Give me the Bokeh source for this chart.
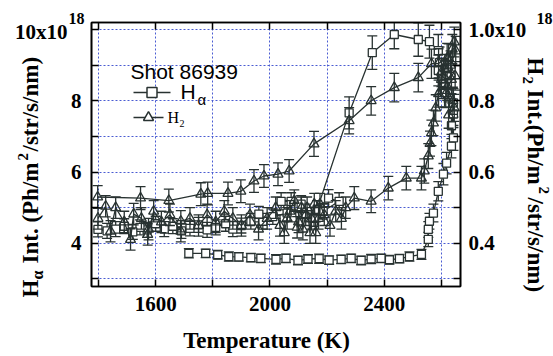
from math import pi
from bokeh.plotting import figure
from bokeh.models import Range1d, LinearAxis, FixedTicker, ColumnDataSource
from bokeh.core.properties import value
from bokeh.embed import file_html
from bokeh.resources import INLINE

# ---------------- data ----------------
# H-alpha intensity (x1e18 Ph/m^2/str/s/nm), time ordered
ha_T = [1716, 1775, 1817, 1856, 1891, 1933, 1968, 2021, 2056, 2098, 2133, 2172, 2207, 2249,
        2284, 2319, 2354, 2389, 2418, 2453, 2488, 2530,
        2554, 2554, 2558, 2572, 2589, 2607, 2618, 2635, 2642, 2635, 2642, 2642, 2611, 2607,
        2600, 2589, 2593, 2589, 2558, 2519, 2435, 2358, 2277, 2165,
        2205, 2242, 2186, 2154, 2109, 2074, 2039, 2060, 2010, 1975, 1961, 1933, 1900, 1870,
        1845, 1810, 1780, 1750, 1720, 1690, 1660, 1630, 1600, 1570, 1545, 1520, 1490, 1460,
        1430, 1398]
ha_I = [3.72, 3.72, 3.68, 3.63, 3.62, 3.60, 3.58, 3.55, 3.58, 3.52, 3.56, 3.57, 3.53, 3.55,
        3.58, 3.52, 3.56, 3.58, 3.54, 3.57, 3.63, 3.69,
        4.11, 4.39, 4.62, 4.85, 5.46, 5.94, 6.25, 6.73, 6.96, 7.30, 7.63, 7.94, 8.23, 8.48,
        8.70, 8.85, 9.07, 9.41, 9.66, 9.72, 9.86, 9.35, 7.66, 4.95,
        5.27, 5.18, 4.90, 4.70, 5.10, 5.18, 5.18, 4.85, 4.75, 4.62, 4.82, 4.62, 4.50, 4.40,
        4.55, 4.45, 4.38, 4.52, 4.42, 4.35, 4.48, 4.40, 4.55, 4.38, 4.45, 4.32, 4.48, 4.40,
        4.35, 4.39]
ha_err = [0.13, 0.12, 0.12, 0.13, 0.12, 0.12, 0.12, 0.13, 0.12, 0.12, 0.12, 0.13, 0.12, 0.12,
          0.12, 0.12, 0.13, 0.12, 0.12, 0.12, 0.13, 0.14,
          0.20, 0.22, 0.22, 0.25, 0.27, 0.30, 0.30, 0.33, 0.35, 0.36, 0.38, 0.40, 0.40, 0.42,
          0.42, 0.43, 0.44, 0.45, 0.46, 0.47, 0.40, 0.47, 0.45, 0.25,
          0.24, 0.24, 0.22, 0.22, 0.24, 0.24, 0.24, 0.22, 0.22, 0.22, 0.22, 0.22, 0.21, 0.21,
          0.21, 0.21, 0.21, 0.21, 0.21, 0.21, 0.21, 0.21, 0.21, 0.21, 0.21, 0.21, 0.21, 0.21,
          0.21, 0.21]

# H2 intensity (x1e18 Ph/m^2/str/s/nm, right axis), time ordered
h2_T = [1398, 1425, 1442, 1460, 1490, 1512, 1523, 1550, 1575, 1572, 1593, 1620, 1650, 1688,
        1688, 1720, 1750, 1780, 1810, 1840, 1870, 1900, 1930, 1960, 1990, 2020, 2035, 2050,
        2060, 2070, 2085, 2095, 2100, 2110, 2115, 2125, 2130, 2140, 2145, 2155, 2160, 2170,
        2175, 2190, 2210, 2230, 2250, 2265,
        2295, 2354, 2414, 2477, 2530, 2540, 2554, 2560, 2565, 2572, 2580, 2590, 2600, 2612,
        2625, 2638, 2645, 2650, 2632, 2648, 2620, 2640, 2625, 2645, 2615, 2635, 2600, 2620,
        2590, 2565, 2519, 2435, 2354, 2277, 2154, 2067, 2028, 1979, 1944, 1898, 1853, 1782,
        1758, 1646, 1547, 1397]
h2_I = [0.470, 0.504, 0.434, 0.500, 0.460, 0.411, 0.482, 0.470, 0.440, 0.425, 0.490, 0.460,
        0.480, 0.434, 0.462, 0.470, 0.450, 0.480, 0.460, 0.490, 0.470, 0.450, 0.480, 0.440,
        0.470, 0.500, 0.450, 0.430, 0.470, 0.490, 0.520, 0.445, 0.460, 0.500, 0.440, 0.480,
        0.500, 0.430, 0.470, 0.510, 0.430, 0.470, 0.510, 0.480, 0.450, 0.490, 0.470, 0.500,
        0.527, 0.518, 0.555, 0.583, 0.583, 0.603, 0.645, 0.680, 0.710, 0.738, 0.780, 0.820,
        0.860, 0.890, 0.920, 0.945, 0.965, 0.940, 0.900, 0.870, 0.840, 0.800, 0.760, 0.780,
        0.820, 0.860, 0.880, 0.920, 0.905, 0.904, 0.865, 0.837, 0.800, 0.744, 0.679, 0.603,
        0.594, 0.589, 0.575, 0.546, 0.540, 0.540, 0.538, 0.520, 0.527, 0.530]
h2_err = [0.030, 0.030, 0.030, 0.030, 0.030, 0.030, 0.030, 0.030, 0.030, 0.030, 0.030, 0.030,
          0.030, 0.030, 0.030, 0.030, 0.030, 0.030, 0.030, 0.030, 0.030, 0.030, 0.030, 0.030,
          0.030, 0.030, 0.030, 0.030, 0.030, 0.030, 0.030, 0.030, 0.030, 0.030, 0.030, 0.030,
          0.030, 0.030, 0.030, 0.030, 0.030, 0.030, 0.030, 0.030, 0.030, 0.030, 0.030, 0.030,
          0.032, 0.032, 0.033, 0.033, 0.033, 0.034, 0.035, 0.035, 0.036, 0.036, 0.037, 0.038,
          0.039, 0.040, 0.040, 0.041, 0.042, 0.041, 0.040, 0.040, 0.039, 0.038, 0.037, 0.038,
          0.039, 0.040, 0.040, 0.041, 0.041, 0.041, 0.040, 0.040, 0.040, 0.037, 0.035, 0.032,
          0.032, 0.032, 0.032, 0.032, 0.032, 0.032, 0.032, 0.032, 0.032, 0.032]

x_ticks = [1400, 1600, 1800, 2000, 2200, 2400, 2600]
x_tick_labels = {1600: "1600", 2000: "2000", 2400: "2400"}
left_ticks = [3, 4, 5, 6, 7, 8, 9, 10]
left_tick_labels = {4: "4", 6: "6", 8: "8"}
right_ticks = [0.3, 0.4, 0.5, 0.6, 0.7, 0.8, 0.9, 1.0]
right_tick_labels = {0.4: "0.4", 0.6: "0.6", 0.8: "0.8", 1.0: "1.0x10"}

# ---------------- figure ----------------
DARK = "#283231"
GRID = "#4a5cd2"
SERIF = "Liberation Serif"
SANS = "Liberation Sans"

X0, X1 = 1375.4, 2666.7
Y0, Y1 = 2.789, 10.197

p = figure(width=553, height=356, x_range=Range1d(X0, X1), y_range=Range1d(Y0, Y1),
           output_backend="svg", toolbar_location=None,
           min_border_left=91, min_border_right=93, min_border_top=22, min_border_bottom=70)
p.extra_y_ranges = {"right": Range1d(Y0 / 10, Y1 / 10)}
p.background_fill_color = "white"
p.border_fill_color = "white"
p.outline_line_color = "black"
p.outline_line_width = 1.6


def style_axis(ax, ticks, labels, standoff):
    ax.ticker = FixedTicker(ticks=ticks)
    ax.major_label_overrides = {t: labels.get(t, "") for t in ticks}
    ax.major_tick_in = 7
    ax.major_tick_out = 0
    ax.minor_tick_in = 0
    ax.minor_tick_out = 0
    ax.major_tick_line_color = "black"
    ax.major_tick_line_width = 1.5
    ax.axis_line_color = "black"
    ax.axis_line_width = 1.6
    ax.major_label_text_font = SERIF
    ax.major_label_text_font_style = "bold"
    ax.major_label_text_font_size = "21px"
    ax.major_label_text_color = "black"
    ax.major_label_standoff = standoff


style_axis(p.xaxis[0], x_ticks, x_tick_labels, 10)
style_axis(p.yaxis[0], left_ticks, left_tick_labels, 10)

top_axis = LinearAxis()
style_axis(top_axis, x_ticks, {}, 0)
top_axis.major_label_text_font_size = "1px"
p.add_layout(top_axis, "above")

right_axis = LinearAxis(y_range_name="right")
style_axis(right_axis, right_ticks, right_tick_labels, 8)
p.add_layout(right_axis, "right")

p.xgrid.ticker = FixedTicker(ticks=x_ticks)
p.ygrid.ticker = FixedTicker(ticks=left_ticks)
p.grid.grid_line_color = GRID
p.grid.grid_line_dash = "2 2"
p.grid.grid_line_width = 1

# ---------------- series ----------------
ha_src = ColumnDataSource(dict(T=ha_T, I=ha_I,
                               lo=[v - e for v, e in zip(ha_I, ha_err)],
                               hi=[v + e for v, e in zip(ha_I, ha_err)]))
h2_src = ColumnDataSource(dict(T=h2_T, I=h2_I,
                               lo=[v - e for v, e in zip(h2_I, h2_err)],
                               hi=[v + e for v, e in zip(h2_I, h2_err)]))

# H-alpha
p.line("T", "I", source=ha_src, line_color=DARK, line_width=1.3)
p.segment("T", "lo", "T", "hi", source=ha_src, line_color=DARK, line_width=1.3)
p.scatter("T", "lo", source=ha_src, marker="dash", size=10, line_color=DARK, line_width=1.3)
p.scatter("T", "hi", source=ha_src, marker="dash", size=10, line_color=DARK, line_width=1.3)
p.scatter("T", "I", source=ha_src, marker="square", size=8, fill_color="white",
          line_color=DARK, line_width=1.3)

# H2 (right axis)
kw = dict(source=h2_src, y_range_name="right")
p.line("T", "I", line_color=DARK, line_width=1.3, **kw)
p.segment("T", "lo", "T", "hi", line_color=DARK, line_width=1.3, **kw)
p.scatter("T", "lo", marker="dash", size=10, line_color=DARK, line_width=1.3, **kw)
p.scatter("T", "hi", marker="dash", size=10, line_color=DARK, line_width=1.3, **kw)
p.scatter("T", "I", marker="triangle", size=10, fill_alpha=0, line_color=DARK,
          line_width=1.3, **kw)


# ---------------- texts (positions in canvas pixels) ----------------
def xd(px):
    return X0 + (px - 91) * (X1 - X0) / 369.0


def yd(py):
    return Y1 - (py - 22) * (Y1 - Y0) / 264.0


def txt(text, px, py, size, bold=True, font=SERIF, align="left", rot=0):
    # (px, py): baseline start in canvas pixels; rot: 0 flat, 1 CCW, -1 CW
    shift = 0.31 * size
    if rot == 0:
        py -= shift
    elif rot == 1:
        px -= shift
    else:
        px += shift
    p.text(x=[xd(px)], y=[yd(py)], text=[text], text_font=value(font),
           text_font_size=value(f"{size}px"),
           text_font_style=value("bold" if bold else "normal"),
           text_align=value(align), text_baseline=value("alphabetic"),
           angle=rot * pi / 2, text_color="black", level="overlay")


# top-left / top-right exponent labels
txt("10x10", 67, 38, 21, align="right")
txt("18", 68, 23, 16)
txt("18", 536, 23, 16)

# x title
txt("Temperature (K)", 266, 347, 23, align="center")

# left title (rotated CCW, reading upward)
txt("H", 37, 297, 23, rot=1)
txt("α", 42, 279, 16, rot=1)
txt("Int. (Ph/m", 37, 263, 23, rot=1)
txt("2", 27, 160, 15, rot=1)
txt("/str/s/nm)", 37, 151, 23, rot=1)

# right title (rotated CW, reading downward)
txt("H", 528, 57, 23, rot=-1)
txt("2", 523, 76, 15, rot=-1)
txt("Int.(Ph/m", 528, 89, 23, rot=-1)
txt("2", 539, 186, 15, rot=-1)
txt("/str/s/nm)", 528, 197, 23, rot=-1)

# legend
txt("Shot 86939", 130, 78, 21, bold=False, font=SANS)
p.line([xd(133), xd(170)], [yd(92), yd(92)], line_color=DARK, line_width=1.5)
p.scatter([xd(151.5)], [yd(92)], marker="square", size=10, fill_color="white",
          line_color=DARK, line_width=1.5)
txt("H", 180, 98, 21, bold=False, font=SANS)
txt("α", 197, 104, 15, bold=False, font=SANS)
p.line([xd(133), xd(163)], [yd(117), yd(117)], line_color=DARK, line_width=1.5)
p.scatter([xd(148)], [yd(117)], marker="triangle", size=10, fill_color="white",
          line_color=DARK, line_width=1.5)
txt("H", 167, 122, 16, bold=False)
txt("2", 179, 126, 10, bold=False)

open("out.html", "w").write(file_html(p, INLINE))
